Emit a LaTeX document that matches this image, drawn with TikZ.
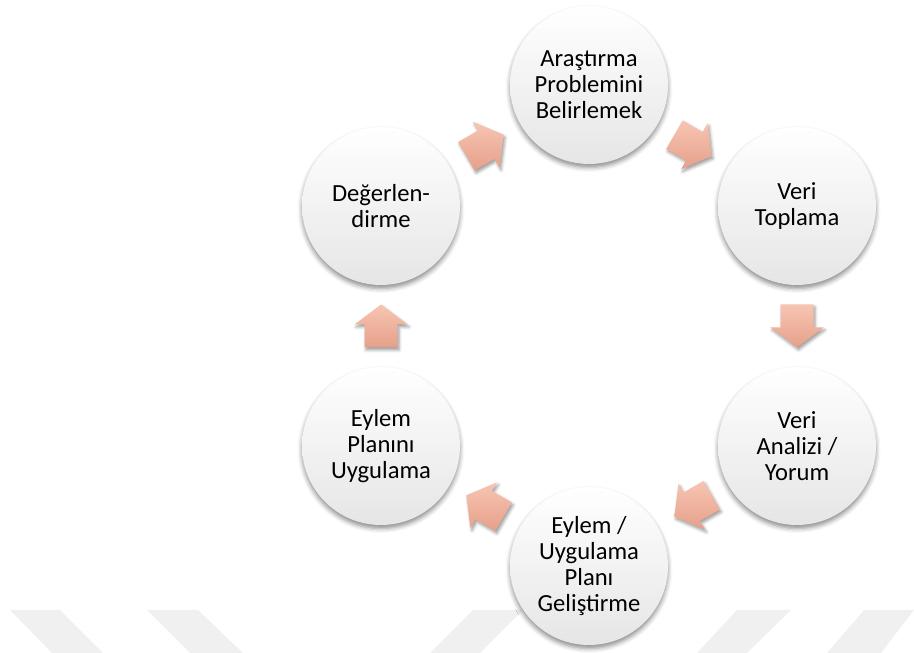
\documentclass[tikz,border=0pt]{standalone}
\usepackage{fontspec}
\setmainfont{Carlito}
\usetikzlibrary{shadows.blur,calc}

\definecolor{okust}{HTML}{F7C5B3}
\definecolor{okalt}{HTML}{E6A08A}
\definecolor{filigran}{HTML}{F0F0F0}

% Blok ok: merkez, açı
\newcommand{\blokok}[2]{%
    \path[ok, shift={#1}, rotate=#2]
        (-0.43,-0.33) -- (0.03,-0.33) -- (0.03,-0.53) -- (0.43,0)
        -- (0.03,0.53) -- (0.03,0.33) -- (-0.43,0.33) -- cycle;}

\begin{document}
\begin{tikzpicture}[
    asama/.style={circle, minimum size=3.16cm, inner sep=0pt, align=center,
        top color=white, middle color=white, bottom color=gray!20,
        blur shadow={shadow xshift=0pt, shadow yshift=-0.07cm,
                     shadow blur radius=0.09cm, shadow opacity=45},
        font=\fontsize{14}{14.8}\selectfont},
    ok/.style={top color=okust, bottom color=okalt,
        blur shadow={shadow xshift=0.03cm, shadow yshift=-0.05cm,
                     shadow blur radius=0.06cm, shadow opacity=40}},
    serit/.style={fill=filigran}
]

    % Sayfa sınırları
    \useasboundingbox (0,0) rectangle (18.28,13.06);

    % Alttaki silik şeritler (filigran)
    \fill[serit] (0.20,0.86) -- (1.20,0.86) -- (2.06,0) -- (1.04,0) -- cycle;
    \fill[serit] (2.94,0.86) -- (3.96,0.86) -- (4.86,0) -- (3.80,0) -- cycle;
    \fill[serit] (9.46,0.86) -- (10.46,0.86) -- (9.60,0) -- (8.60,0) -- cycle;
    \fill[serit] (14.74,0.86) -- (15.82,0.86) -- (14.94,0) -- (13.94,0) -- cycle;
    \fill[serit] (17.28,0.86) -- (18.28,0.86) -- (17.62,0) -- (16.54,0) -- cycle;

    % Döngünün aşamaları
    \node[asama] (arastirma)     at (11.78,11.36) {Araştırma\\Problemini\\Belirlemek};
    \node[asama] (toplama)       at (15.94,8.94)  {Veri\\Toplama};
    \node[asama] (analiz)        at (15.94,4.14)  {Veri\\Analizi /\\Yorum};
    \node[asama] (gelistirme)    at (11.78,1.74)  {Eylem /\\Uygulama\\Planı\\Geliştirme};
    \node[asama] (uygulama)      at (7.62,4.14)   {Eylem\\Planını\\Uygulama};
    \node[asama] (degerlendirme) at (7.62,8.94)   {Değerlen-\\dirme};

    % Aşamalar arasındaki oklar
    \blokok{($(arastirma)!0.5!(toplama)$)}{-30}
    \blokok{($(toplama)!0.5!(analiz)$)}{-90}
    \blokok{($(analiz)!0.5!(gelistirme)$)}{-150}
    \blokok{($(gelistirme)!0.5!(uygulama)$)}{150}
    \blokok{($(uygulama)!0.5!(degerlendirme)$)}{90}
    \blokok{($(degerlendirme)!0.5!(arastirma)$)}{30}

\end{tikzpicture}
\end{document}
